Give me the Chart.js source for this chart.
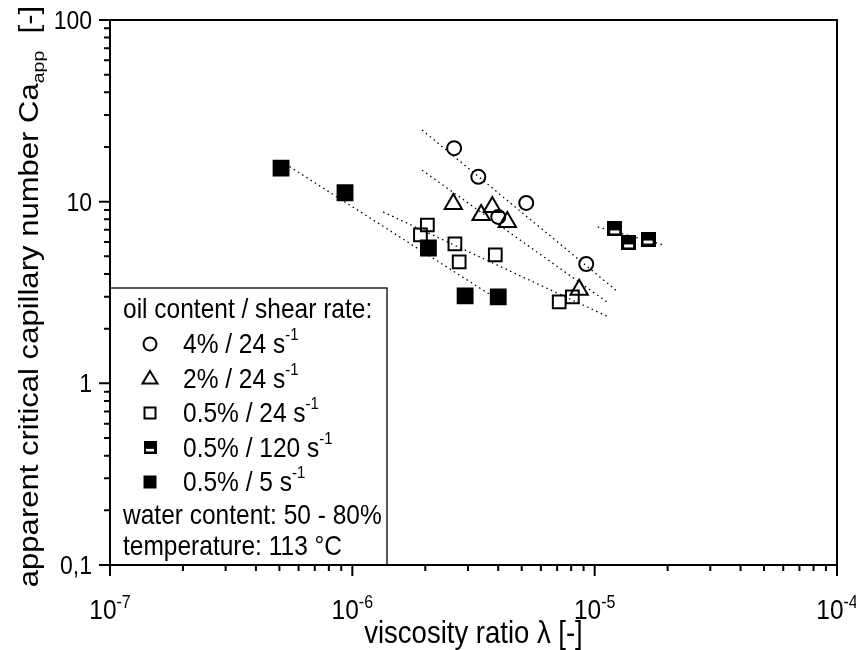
<!DOCTYPE html>
<html lang="en">
<head>
<meta charset="UTF-8">
<title>Critical capillary number vs viscosity ratio</title>
<script src="https://cdn.jsdelivr.net/npm/chart.js@4.4.2/dist/chart.umd.min.js"></script>
<style>
    body { margin: 0; background: #fff; }
    #wrap { width: 856px; height: 650px; }
</style>
</head>
<body>
<div id="wrap"><canvas id="chart" width="856" height="650"></canvas></div>
<script>
// viscosity ratio lambda (x) and apparent critical capillary number Ca_app (y)
const circ4X = [2.63e-6, 3.31e-6, 5.22e-6, 4.0e-6, 9.23e-6];
const circ4Y = [19.7, 13.7, 9.84, 8.24, 4.54];
const tri2X = [2.61e-6, 3.78e-6, 3.40e-6, 4.36e-6, 8.63e-6];
const tri2Y = [9.71, 9.35, 8.45, 7.73, 3.27];
const sq24X = [2.04e-6, 1.91e-6, 2.65e-6, 2.76e-6, 3.89e-6, 7.14e-6, 8.09e-6];
const sq24Y = [7.44, 6.56, 5.85, 4.66, 5.09, 2.81, 2.99];
const sq120X = [1.21e-5, 1.38e-5, 1.66e-5];
const sq120Y = [7.08, 5.93, 6.23];
const sq5X = [5.08e-7, 9.33e-7, 2.06e-6, 2.92e-6, 4.0e-6];
const sq5Y = [15.3, 11.2, 5.56, 3.03, 2.99];

// dotted power-law fits: start and end point of each
const fitCirc4X = [1.94e-6, 1.25e-5], fitCirc4Y = [24.8, 3.18];
const fitTri2X = [1.94e-6, 1.14e-5], fitTri2Y = [14.9, 2.77];
const fitSq24X = [1.34e-6, 1.14e-5], fitSq24Y = [8.78, 2.32];
const fitSq120X = [1.03e-5, 1.92e-5], fitSq120Y = [7.26, 5.78];
const fitSq5X = [5.08e-7, 4.07e-6], fitSq5Y = [16.7, 2.84];

// axes
const xExponents = [-7, -6, -5, -4];
const yTickValues = [0.1, 1, 10, 100];
const yTickLabels = ['0,1', '1', '10', '100'];

const legendTitle = 'oil content / shear rate:';
const legendRows = ['4% / 24 s', '2% / 24 s', '0.5% / 24 s', '0.5% / 120 s', '0.5% / 5 s'];
const legendNotes = ['water content: 50 - 80%', 'temperature: 113 °C'];

const FONT = '"Liberation Sans", Arial, sans-serif';
const SY = 1.15; // the original lettering is taller than it is wide

function pts(xs, ys) { return xs.map((v, i) => ({ x: v, y: ys[i] })); }

// square with filled upper half (0.5% / 120 1/s)
function halfSquare(size) {
    const c = document.createElement('canvas');
    c.width = size; c.height = size;
    const g = c.getContext('2d');
    g.fillStyle = '#000';
    g.fillRect(0, 0, size, size);
    g.fillStyle = '#fff';
    g.fillRect(3, Math.round(size * 0.58), size - 6, Math.round(size * 0.22));
    return c;
}
const halfIcon = halfSquare(15);

function scatterSet(data, style, radius, fill) {
    return {
        type: 'scatter', data: data, pointStyle: style, pointRadius: radius,
        pointHoverRadius: radius, borderColor: '#000', pointBorderWidth: 2,
        backgroundColor: fill, pointBackgroundColor: fill, order: 1
    };
}
function fitSet(data) {
    return {
        type: 'line', data: data, borderColor: '#000', borderWidth: 1.3,
        borderDash: [1.5, 3.5], pointRadius: 0, fill: false, order: 2
    };
}

// text made of runs [text, size, rise]; stretched vertically by sy
function rich(ctx, parts, x, y, align, sy) {
    let w = 0;
    parts.forEach(p => { ctx.font = p[1] + 'px ' + FONT; w += ctx.measureText(p[0]).width; });
    ctx.save();
    ctx.translate(x, y);
    ctx.scale(1, sy || SY);
    let cx = align === 'center' ? -w / 2 : align === 'right' ? -w : 0;
    parts.forEach(p => {
        ctx.font = p[1] + 'px ' + FONT;
        ctx.fillText(p[0], cx, -(p[2] || 0));
        cx += ctx.measureText(p[0]).width;
    });
    ctx.restore();
}

function drawMarker(ctx, kind, x, y) {
    ctx.save();
    ctx.lineWidth = 2;
    ctx.strokeStyle = '#000';
    ctx.fillStyle = '#000';
    if (kind === 0) {
        ctx.beginPath(); ctx.arc(x, y, 6.5, 0, Math.PI * 2); ctx.stroke();
    } else if (kind === 1) {
        ctx.beginPath();
        ctx.moveTo(x, y - 7.5); ctx.lineTo(x + 7.5, y + 5); ctx.lineTo(x - 7.5, y + 5);
        ctx.closePath(); ctx.stroke();
    } else if (kind === 2) {
        ctx.strokeRect(x - 5.5, y - 5.5, 11, 11);
    } else if (kind === 3) {
        ctx.drawImage(halfIcon, x - 6.5, y - 6.5, 13, 13);
    } else {
        ctx.fillRect(x - 6.5, y - 6.5, 13, 13);
    }
    ctx.restore();
}

const framePlugin = {
    id: 'frame',
    afterDraw(chart) {
        const { ctx, chartArea: a } = chart;
        const xs = chart.scales.x, ys = chart.scales.y;
        ctx.save();
        ctx.strokeStyle = '#000';
        ctx.fillStyle = '#000';
        ctx.lineWidth = 2;
        ctx.strokeRect(a.left, a.top, a.right - a.left, a.bottom - a.top);

        // bottom axis ticks
        ctx.beginPath();
        xExponents.forEach((e, i) => {
            const px = xs.getPixelForValue(Math.pow(10, e));
            ctx.moveTo(px, a.bottom); ctx.lineTo(px, a.bottom + 11);
            if (i < xExponents.length - 1) {
                for (let m = 2; m <= 9; m++) {
                    const q = xs.getPixelForValue(m * Math.pow(10, e));
                    ctx.moveTo(q, a.bottom); ctx.lineTo(q, a.bottom + 6);
                }
            }
        });
        // left axis ticks
        yTickValues.forEach((v, i) => {
            const py = ys.getPixelForValue(v);
            ctx.moveTo(a.left, py); ctx.lineTo(a.left - 11, py);
            if (i < yTickValues.length - 1) {
                for (let m = 2; m <= 9; m++) {
                    const q = ys.getPixelForValue(m * v);
                    ctx.moveTo(a.left, q); ctx.lineTo(a.left - 6, q);
                }
            }
        });
        ctx.stroke();

        ctx.textBaseline = 'alphabetic';
        xExponents.forEach(e => {
            const px = xs.getPixelForValue(Math.pow(10, e));
            rich(ctx, [['10', 24.5], [String(e), 16, 10]], px, a.bottom + 54, 'center');
        });
        yTickValues.forEach((v, i) => {
            const py = ys.getPixelForValue(v);
            rich(ctx, [[yTickLabels[i], 23]], a.left - 18, py + 9, 'right');
        });

        // axis titles
        rich(ctx, [['viscosity ratio λ [-]', 27.5]], (a.left + a.right) / 2, 643, 'center');
        ctx.save();
        ctx.translate(38, (a.top + a.bottom) / 2 + 4);
        ctx.rotate(-Math.PI / 2);
        ctx.scale(SY, 1);
        rich(ctx, [['apparent critical capillary number Ca', 27], ['app', 17, -6], ['  [-]', 27]], 0, 0, 'center', 1);
        ctx.restore();

        // legend box
        const lx = a.left, ly = 288, lw = 277, lh = a.bottom - ly;
        ctx.fillStyle = '#fff';
        ctx.fillRect(lx, ly, lw, lh);
        ctx.lineWidth = 1.3;
        ctx.strokeRect(lx, ly, lw, lh);
        ctx.fillStyle = '#000';
        rich(ctx, [[legendTitle, 24.5]], lx + 13, ly + 30, 'left');
        legendRows.forEach((t, i) => {
            const cy = ly + 56 + i * 34.5;
            drawMarker(ctx, i, lx + 40, cy);
            rich(ctx, [[t, 24.5], ['-1', 15, 11]], lx + 73, cy + 9, 'left');
        });
        legendNotes.forEach((t, i) => {
            rich(ctx, [[t, 24.5]], lx + 13, ly + 236 + i * 31, 'left');
        });
        // axis lines on top of the legend border
        ctx.lineWidth = 2;
        ctx.beginPath();
        ctx.moveTo(a.left, a.top); ctx.lineTo(a.left, a.bottom); ctx.lineTo(a.right, a.bottom);
        ctx.stroke();
        ctx.restore();
    }
};

new Chart(document.getElementById('chart'), {
    type: 'scatter',
    data: {
        datasets: [
            fitSet(pts(fitCirc4X, fitCirc4Y)),
            fitSet(pts(fitTri2X, fitTri2Y)),
            fitSet(pts(fitSq24X, fitSq24Y)),
            fitSet(pts(fitSq120X, fitSq120Y)),
            fitSet(pts(fitSq5X, fitSq5Y)),
            scatterSet(pts(circ4X, circ4Y), 'circle', 7, 'rgba(0,0,0,0)'),
            scatterSet(pts(tri2X, tri2Y), 'triangle', 10, 'rgba(0,0,0,0)'),
            scatterSet(pts(sq24X, sq24Y), 'rect', 9, 'rgba(0,0,0,0)'),
            scatterSet(pts(sq120X, sq120Y), halfIcon, 7.5, '#000'),
            scatterSet(pts(sq5X, sq5Y), 'rect', 10.5, '#000')
        ]
    },
    options: {
        responsive: false,
        animation: false,
        layout: { padding: { left: 110, top: 20, right: 19, bottom: 85 } },
        plugins: { legend: { display: false }, tooltip: { enabled: false } },
        scales: {
            x: { type: 'logarithmic', min: 1e-7, max: 1e-4, display: false },
            y: { type: 'logarithmic', min: 0.1, max: 100, display: false }
        }
    },
    plugins: [framePlugin]
});
</script>
</body>
</html>
